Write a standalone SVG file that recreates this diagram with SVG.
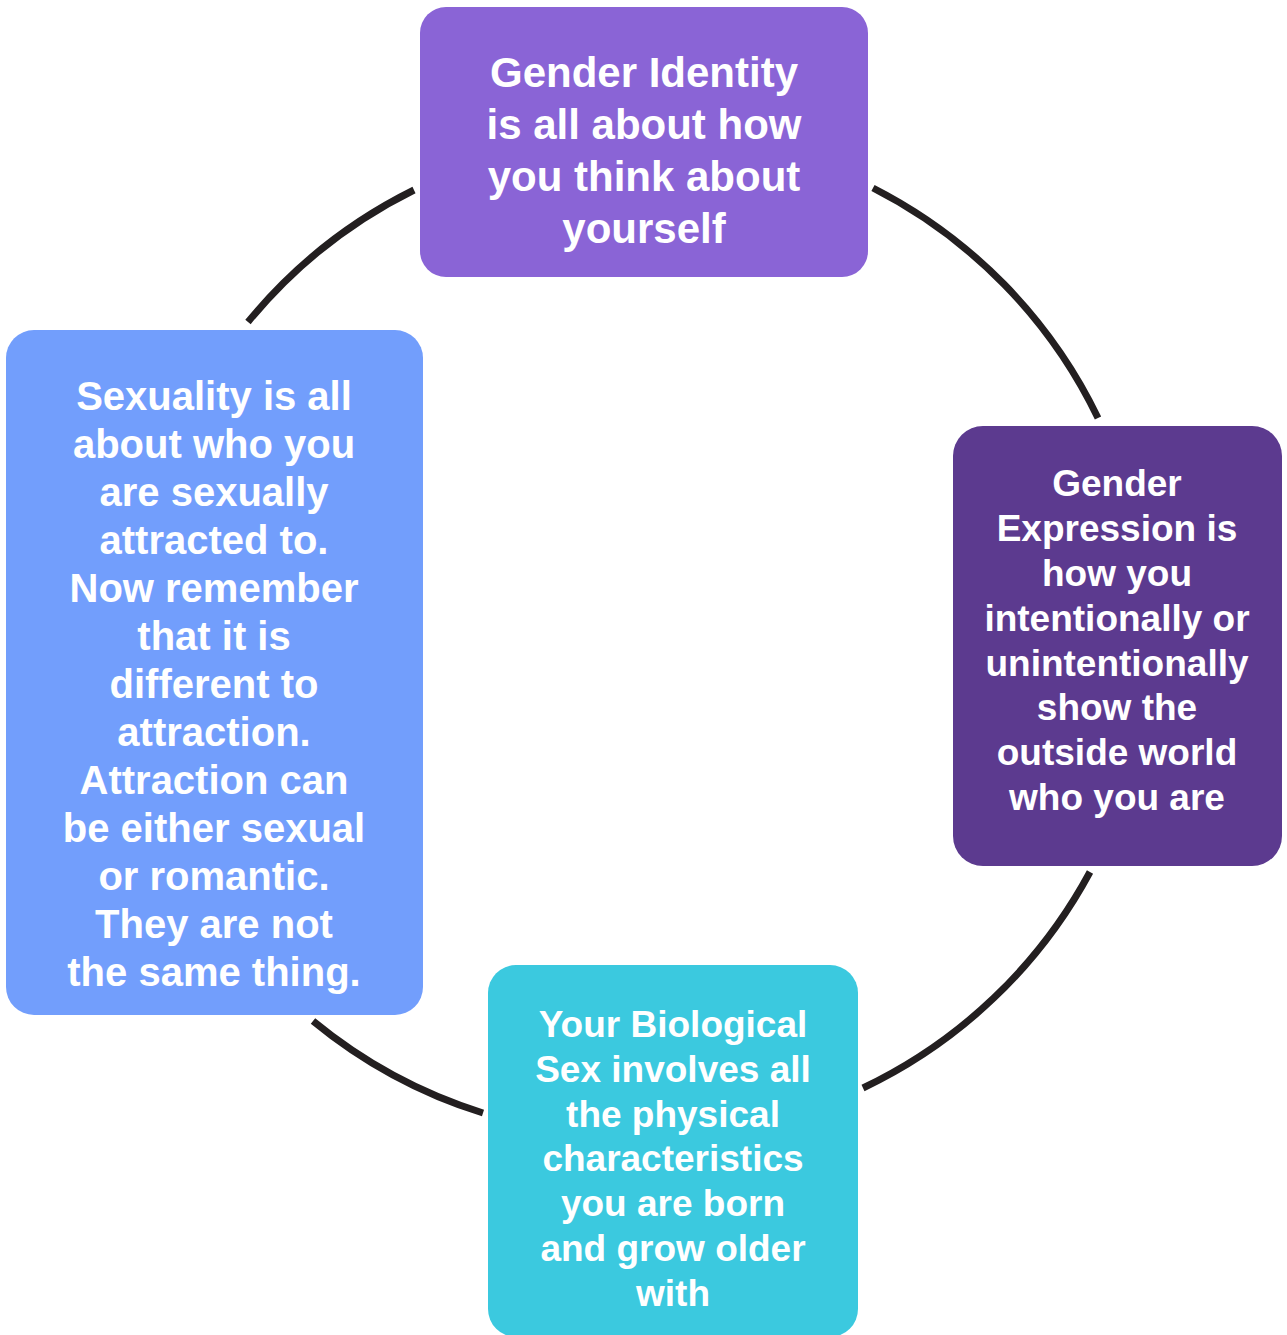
<svg xmlns="http://www.w3.org/2000/svg" width="1287" height="1335" viewBox="0 0 1287 1335">
<style>
.arc{fill:none;stroke:#231f20;stroke-width:7;stroke-linecap:butt}
.t{font-family:"Liberation Sans",Arial,sans-serif;font-weight:bold;fill:#ffffff;text-anchor:middle}
.t42{font-size:42px}
.t40{font-size:40px}
.t37{font-size:37px}
</style>
<rect width="1287" height="1335" fill="#ffffff"/>
<g id="connectors">
<path class="arc" d="M414,190 A504,504 0 0 0 248,322"/>
<path class="arc" d="M873,188 A504,504 0 0 1 1098,418"/>
<path class="arc" d="M1090,872 A504,504 0 0 1 863,1088"/>
<path class="arc" d="M483,1113 A504,504 0 0 1 313,1021"/>
</g>
<g id="gender-identity">
<rect x="420" y="7" width="448" height="270" rx="26" fill="#8a64d6"/>
<text class="t t42" x="644"><tspan x="644" y="87">Gender Identity</tspan><tspan x="644" y="139">is all about how</tspan><tspan x="644" y="191">you think about</tspan><tspan x="644" y="243">yourself</tspan></text>
</g>
<g id="gender-expression">
<rect x="953" y="426" width="329" height="440" rx="30" fill="#5c3a8f"/>
<text class="t t37" x="1117"><tspan x="1117" y="496">Gender</tspan><tspan x="1117" y="541">Expression is</tspan><tspan x="1117" y="586">how you</tspan><tspan x="1117" y="631">intentionally or</tspan><tspan x="1117" y="676">unintentionally</tspan><tspan x="1117" y="720">show the</tspan><tspan x="1117" y="765">outside world</tspan><tspan x="1117" y="810">who you are</tspan></text>
</g>
<g id="sexuality">
<rect x="6" y="330" width="417" height="685" rx="28" fill="#729efc"/>
<text class="t t40" x="214"><tspan x="214" y="410">Sexuality is all</tspan><tspan x="214" y="458">about who you</tspan><tspan x="214" y="506">are sexually</tspan><tspan x="214" y="554">attracted to.</tspan><tspan x="214" y="602">Now remember</tspan><tspan x="214" y="650">that it is</tspan><tspan x="214" y="698">different to</tspan><tspan x="214" y="746">attraction.</tspan><tspan x="214" y="794">Attraction can</tspan><tspan x="214" y="842">be either sexual</tspan><tspan x="214" y="890">or romantic.</tspan><tspan x="214" y="938">They are not</tspan><tspan x="214" y="986">the same thing.</tspan></text>
</g>
<g id="biological-sex">
<rect x="488" y="965" width="370" height="372" rx="28" fill="#3bc9df"/>
<text class="t t37" x="673"><tspan x="673" y="1037">Your Biological</tspan><tspan x="673" y="1082">Sex involves all</tspan><tspan x="673" y="1127">the physical</tspan><tspan x="673" y="1171">characteristics</tspan><tspan x="673" y="1216">you are born</tspan><tspan x="673" y="1261">and grow older</tspan><tspan x="673" y="1306">with</tspan></text>
</g>
</svg>
